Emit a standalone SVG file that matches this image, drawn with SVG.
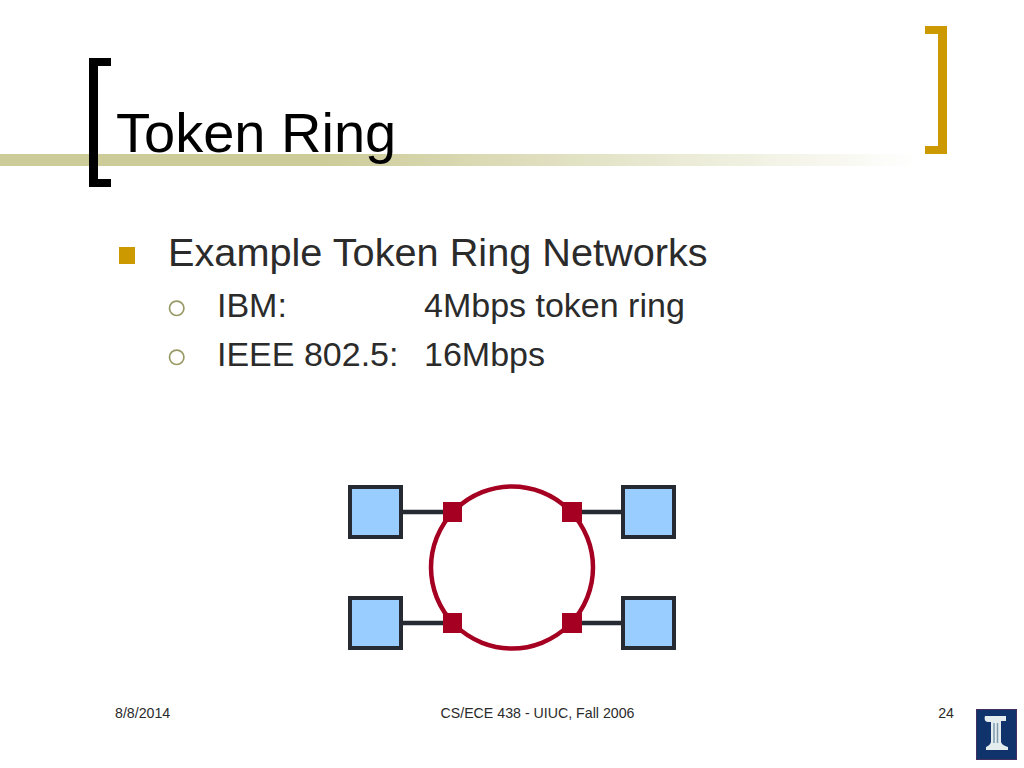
<svg xmlns="http://www.w3.org/2000/svg" width="1024" height="768" viewBox="0 0 1024 768">
<style>
text{font-family:"Liberation Sans",Arial,sans-serif;fill:#2b2b2b}
.title{font-size:56px;fill:#000}
.l1{font-size:39.700px}
.l2{font-size:34px}
.foot{font-size:14.200px}
.station{fill:#99ccff;stroke:#262b33;stroke-width:4}
.tap{fill:#a50021}
.link{stroke:#262b33;stroke-width:4.500;fill:none}
.ring{stroke:#a50021;stroke-width:4.500;fill:none}
.sub{fill:none;stroke:#999966;stroke-width:1.700}
</style>
<defs>
<linearGradient id="band" x1="0" x2="1" y1="0" y2="0">
<stop offset="0" stop-color="#cccc99"/>
<stop offset="0.35" stop-color="#cccc99"/>
<stop offset="1" stop-color="#ffffff"/>
</linearGradient>
</defs>
<rect width="1024" height="768" fill="#fff"/>
<rect x="0" y="154" width="920" height="12" fill="url(#band)"/>
<path d="M111 58H89V187H111V179H98V66H111Z" fill="#000"/>
<path d="M925 26H947V154H925V146H938V34H925Z" fill="#cc9900"/>
<text class="title" x="116" y="152">Token Ring</text>
<rect x="119" y="247" width="16" height="17" fill="#cc9900"/>
<text class="l1" x="168" y="266">Example Token Ring Networks</text>
<circle class="sub" cx="176.700" cy="308.300" r="7.200"/>
<text class="l2" x="217" y="317">IBM:</text>
<text class="l2" x="424" y="317">4Mbps token ring</text>
<circle class="sub" cx="176.700" cy="357.300" r="7.200"/>
<text class="l2" x="217" y="366">IEEE 802.5:</text>
<text class="l2" x="424" y="366">16Mbps</text>
<g id="connectors">
<path class="link" d="M402 512H444M402 623H444M581 512H622M581 623H622"/>
<circle class="ring" cx="512" cy="567.500" r="81"/>
</g>
<g id="station-tl"><rect class="station" x="350" y="487" width="51" height="50"/></g>
<g id="station-tr"><rect class="station" x="623" y="487" width="51" height="50"/></g>
<g id="station-bl"><rect class="station" x="350" y="598" width="51" height="50"/></g>
<g id="station-br"><rect class="station" x="623" y="598" width="51" height="50"/></g>
<g id="tap-tl"><rect class="tap" x="443" y="502" width="19" height="20"/></g>
<g id="tap-tr"><rect class="tap" x="562" y="502" width="20" height="20"/></g>
<g id="tap-bl"><rect class="tap" x="443" y="613" width="19" height="20"/></g>
<g id="tap-br"><rect class="tap" x="562" y="613" width="20" height="20"/></g>
<text class="foot" x="115" y="718">8/8/2014</text>
<text class="foot" x="537.500" y="718" text-anchor="middle">CS/ECE 438 - UIUC, Fall 2006</text>
<text class="foot" x="954" y="718" text-anchor="end">24</text>
<g id="logo">
<rect x="976.500" y="709.500" width="40" height="50" fill="#10336b" stroke="#43305f"/>
<path d="M985 716H1006V721H1001V742C1002 745 1005 746 1008 747V750H986V747C988 746 990 745 991 742V722H988C985 722 984 719 985 716Z" fill="#e4ecee"/>
<path d="M994 723V743M997.500 723V743" stroke="#7f9ab0" stroke-width="1.500" fill="none"/>
</g>
</svg>
